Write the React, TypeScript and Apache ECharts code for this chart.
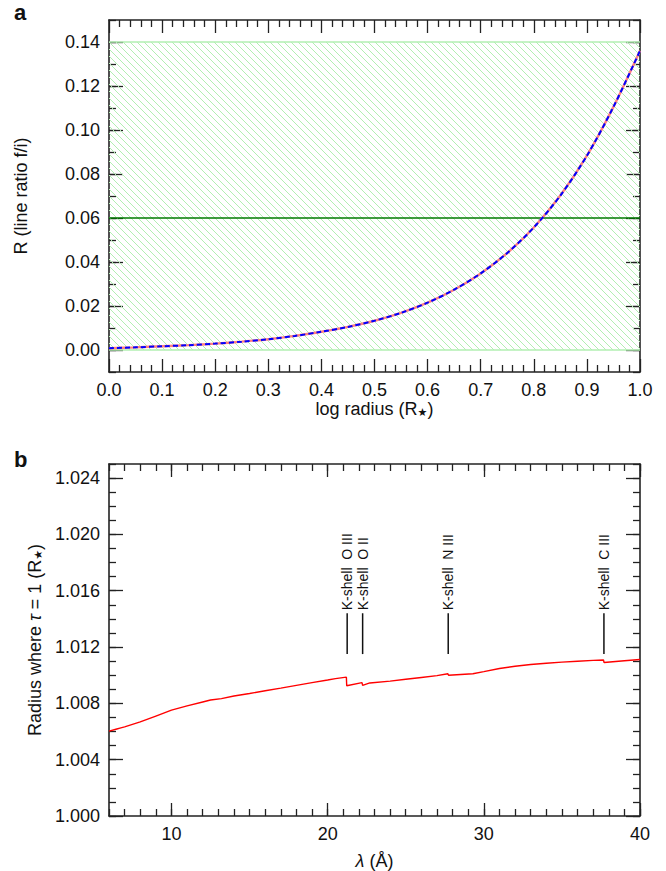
import React, { useEffect, useRef } from "react";
import * as echarts from "echarts";

// ---------- Panel a data ----------
const logRadius = [0, 0.05, 0.1, 0.15, 0.2, 0.25, 0.3, 0.35, 0.4, 0.45, 0.5, 0.55, 0.6, 0.65, 0.7, 0.75, 0.8, 0.85, 0.9, 0.95, 1.0];
const lineRatio = [0.0008, 0.0012, 0.0017, 0.0022, 0.0029, 0.0038, 0.0049, 0.0064, 0.0083, 0.0105, 0.0133, 0.0169, 0.0215, 0.0274, 0.0348, 0.0441, 0.0557, 0.0702, 0.0883, 0.1105, 0.136];
const hatchRange = [0.0, 0.14];
const ratioThreshold = 0.06;
const ratioTicks = [0, 0.02, 0.04, 0.06, 0.08, 0.1, 0.12, 0.14];

// ---------- Panel b data ----------
const wavelength = [6.0, 6.5, 6.7, 7.0, 8.0, 9.0, 10.0, 11.0, 12.0, 12.5, 13.2, 14.0, 15.0, 16.0, 17.0, 18.0, 19.0, 20.0, 20.5, 21.2, 21.22, 22.2, 22.24, 22.7, 24.0, 25.0, 26.0, 27.0, 27.7, 27.74, 29.3, 30.0, 31.0, 32.0, 33.0, 34.0, 35.0, 36.0, 37.0, 37.66, 37.7, 39.0, 40.0];
const tauRadius = [1.00603, 1.00618, 1.00624, 1.00633, 1.00668, 1.0071, 1.00752, 1.00782, 1.0081, 1.00824, 1.00834, 1.00852, 1.0087, 1.0089, 1.00908, 1.00928, 1.00947, 1.00966, 1.00976, 1.00986, 1.00925, 1.00947, 1.00928, 1.00945, 1.00958, 1.00971, 1.00984, 1.00997, 1.0101, 1.01, 1.0101, 1.01025, 1.01048, 1.01064, 1.01076, 1.01085, 1.01093, 1.01099, 1.01105, 1.01108, 1.0109, 1.01103, 1.01112];
const edgeNames = ["K-shell\u00a0 O III", "K-shell\u00a0 O II", "K-shell\u00a0 N III", "K-shell\u00a0 C III"];
const edgeWavelengths = [21.25, 22.24, 27.72, 37.69];
const edgeMarkerRange = [1.0115, 1.0144];
const radiusTicks = [1.0, 1.004, 1.008, 1.012, 1.016, 1.02, 1.024];
const wavelengthTicks = [10, 20, 30, 40];

const FONT = "'Liberation Sans', Arial, Helvetica, sans-serif";
const AXC = "#222";
const LBL = 18;

function minorAxis(gridIndex: number, position: string, min: number, max: number, interval: number, len: number) {
  return {
    type: "value",
    gridIndex,
    position,
    min,
    max,
    interval,
    axisLine: { show: true, onZero: false, lineStyle: { color: AXC, width: 1.6 } },
    axisTick: { show: true, inside: true, length: len, lineStyle: { color: AXC, width: 1.3 } },
    axisLabel: { show: false },
    splitLine: { show: false },
  };
}

function majorAxis(gridIndex: number, position: string, min: number, max: number, ticks: number[], len: number, labels: boolean, fmt: (v: number) => string, extra: any = {}) {
  return {
    type: "value",
    gridIndex,
    position,
    min,
    max,
    axisLine: { show: false, onZero: false },
    axisTick: { show: true, inside: true, length: len, customValues: ticks, lineStyle: { color: AXC, width: 1.3 } },
    axisLabel: {
      show: labels,
      customValues: ticks,
      formatter: (v: number) => fmt(v),
      fontSize: LBL,
      fontFamily: FONT,
      color: "#111",
      margin: 9,
      showMinLabel: true,
      showMaxLabel: true,
    },
    splitLine: { show: false },
    ...extra,
  };
}

export default function App() {
  const ref = useRef<HTMLDivElement>(null);
  useEffect(() => {
    if (!ref.current) return;
    const chart = echarts.init(ref.current, null, { renderer: "svg" });
    const curve = logRadius.map((x, i) => [x, lineRatio[i]]);
    const tauCurve = wavelength.map((x, i) => [x, tauRadius[i]]);
    const nameStyle = {
      fontSize: LBL,
      fontFamily: FONT,
      color: "#111",
      rich: {
        s: { fontSize: 11, fontFamily: "'DejaVu Sans', sans-serif", padding: [8, 0, 0, 0], color: "#111" },
        i: { fontSize: LBL, fontStyle: "italic", fontFamily: FONT, color: "#111" },
      },
    };
    const option: any = {
      animation: false,
      backgroundColor: "#fff",
      title: [
        { text: "a", left: 14, top: 1, padding: 0, textStyle: { fontSize: 22, fontWeight: "bold", fontFamily: FONT, color: "#111" } },
        { text: "b", left: 14, top: 448, padding: 0, textStyle: { fontSize: 22, fontWeight: "bold", fontFamily: FONT, color: "#111" } },
      ],
      grid: [
        { left: 109, top: 20, width: 531, height: 352, containLabel: false },
        { left: 109, top: 464, width: 531, height: 353, containLabel: false },
      ],
      xAxis: [
        {
          type: "value",
          gridIndex: 0,
          position: "bottom",
          min: 0,
          max: 1,
          interval: 0.1,
          axisLine: { show: true, onZero: false, lineStyle: { color: AXC, width: 1.6 } },
          axisTick: { show: true, inside: true, length: 13, lineStyle: { color: AXC, width: 1.3 } },
          minorTick: { show: true, splitNumber: 5, length: 7, lineStyle: { color: AXC, width: 1.3 } },
          axisLabel: { fontSize: LBL, fontFamily: FONT, color: "#111", margin: 9, formatter: (v: number) => v.toFixed(1), showMinLabel: true, showMaxLabel: true },
          splitLine: { show: false },
          minorSplitLine: { show: false },
          name: "log radius (R{s|★})",
          nameLocation: "middle",
          nameGap: 27,
          nameTextStyle: nameStyle,
        },
        {
          type: "value",
          gridIndex: 0,
          position: "top",
          min: 0,
          max: 1,
          interval: 0.1,
          axisLine: { show: true, onZero: false, lineStyle: { color: AXC, width: 1.6 } },
          axisTick: { show: true, inside: true, length: 13, lineStyle: { color: AXC, width: 1.3 } },
          minorTick: { show: true, splitNumber: 5, length: 7, lineStyle: { color: AXC, width: 1.3 } },
          axisLabel: { show: false },
          splitLine: { show: false },
          minorSplitLine: { show: false },
        },
        minorAxis(1, "bottom", 6, 40, 1, 7),
        majorAxis(1, "bottom", 6, 40, wavelengthTicks, 13, true, (v) => String(v), {
          name: "{i|λ} (Å)",
          nameLocation: "middle",
          nameGap: 36,
          nameTextStyle: nameStyle,
        }),
        minorAxis(1, "top", 6, 40, 1, 7),
        majorAxis(1, "top", 6, 40, wavelengthTicks, 13, false, (v) => String(v)),
      ],
      yAxis: [
        minorAxis(0, "left", -0.01, 0.15, 0.01, 7),
        majorAxis(0, "left", -0.01, 0.15, ratioTicks, 14, true, (v) => v.toFixed(2), {
          name: "R (line ratio f/i)",
          nameLocation: "middle",
          nameGap: 79,
          nameTextStyle: nameStyle,
        }),
        minorAxis(0, "right", -0.01, 0.15, 0.01, 7),
        majorAxis(0, "right", -0.01, 0.15, ratioTicks, 14, false, (v) => v.toFixed(2)),
        minorAxis(1, "left", 1.0, 1.025, 0.001, 7),
        majorAxis(1, "left", 1.0, 1.025, radiusTicks, 14, true, (v) => v.toFixed(3), {
          name: "Radius where {i|τ} = 1 (R{s|★})",
          nameLocation: "middle",
          nameGap: 64,
          nameTextStyle: nameStyle,
        }),
        minorAxis(1, "right", 1.0, 1.025, 0.001, 7),
        majorAxis(1, "right", 1.0, 1.025, radiusTicks, 14, false, (v) => v.toFixed(3)),
      ],
      series: [
        {
          type: "custom",
          xAxisIndex: 0,
          yAxisIndex: 0,
          silent: true,
          clip: true,
          data: [[0, hatchRange[0], 1, hatchRange[1]]],
          renderItem: (params: any, api: any) => {
            const pTop = api.coord([api.value(0), api.value(3)]);
            const pBot = api.coord([api.value(2), api.value(1)]);
            const x0 = pTop[0], y0 = pTop[1], x1 = pBot[0], y1 = pBot[1];
            const h = y1 - y0;
            const step = 7;
            const children: any[] = [];
            const st = { stroke: "#b2efb2", lineWidth: 1 };
            for (let c = x0 - h; c < x1; c += step) {
              let xa = c, ya = y0;
              if (xa < x0) { ya = y0 + (x0 - c); xa = x0; }
              let xb = c + h, yb = y1;
              if (xb > x1) { xb = x1; yb = y0 + (x1 - c); }
              if (yb <= ya) continue;
              children.push({ type: "line", shape: { x1: xa, y1: ya, x2: xb, y2: yb }, style: st });
            }
            children.push({ type: "line", shape: { x1: x0, y1: y0, x2: x1, y2: y0 }, style: { stroke: "#b2efb2", lineWidth: 1.5 } });
            children.push({ type: "line", shape: { x1: x0, y1: y1, x2: x1, y2: y1 }, style: { stroke: "#b2efb2", lineWidth: 1.5 } });
            return { type: "group", children };
          },
        },
        {
          type: "line",
          xAxisIndex: 0,
          yAxisIndex: 0,
          data: [[0, ratioThreshold], [1, ratioThreshold]],
          showSymbol: false,
          lineStyle: { color: "#007a00", width: 1.6 },
          silent: true,
        },
        {
          type: "line",
          xAxisIndex: 0,
          yAxisIndex: 0,
          data: curve,
          smooth: 0.3,
          showSymbol: false,
          lineStyle: { color: "#ff8080", width: 2.4 },
          silent: true,
        },
        {
          type: "line",
          xAxisIndex: 0,
          yAxisIndex: 0,
          data: curve,
          smooth: 0.3,
          showSymbol: false,
          lineStyle: { color: "#0000ff", width: 2, type: [5, 3] },
          silent: true,
        },
        {
          type: "line",
          xAxisIndex: 2,
          yAxisIndex: 4,
          data: tauCurve,
          showSymbol: false,
          lineStyle: { color: "#ff0000", width: 1.4 },
          silent: true,
        },
        {
          type: "custom",
          xAxisIndex: 2,
          yAxisIndex: 4,
          silent: true,
          data: edgeWavelengths.map((w) => [w, edgeMarkerRange[0], edgeMarkerRange[1]]),
          renderItem: (params: any, api: any) => {
            const pLo = api.coord([api.value(0), api.value(1)]);
            const pHi = api.coord([api.value(0), api.value(2)]);
            return {
              type: "group",
              children: [
                { type: "line", shape: { x1: pLo[0], y1: pLo[1], x2: pHi[0], y2: pHi[1] }, style: { stroke: "#111", lineWidth: 1.5 } },
                {
                  type: "text",
                  x: pHi[0],
                  y: pHi[1] - 3,
                  rotation: Math.PI / 2,
                  style: {
                    text: edgeNames[params.dataIndex],
                    fontSize: 14,
                    fontFamily: FONT,
                    fill: "#111",
                    align: "left",
                    verticalAlign: "middle",
                  },
                },
              ],
            };
          },
        },
      ],
    };
    chart.setOption(option);
    return () => chart.dispose();
  }, []);
  return <div ref={ref} style={{ position: "absolute", left: 0, top: 0, width: 666, height: 871 }} />;
}
